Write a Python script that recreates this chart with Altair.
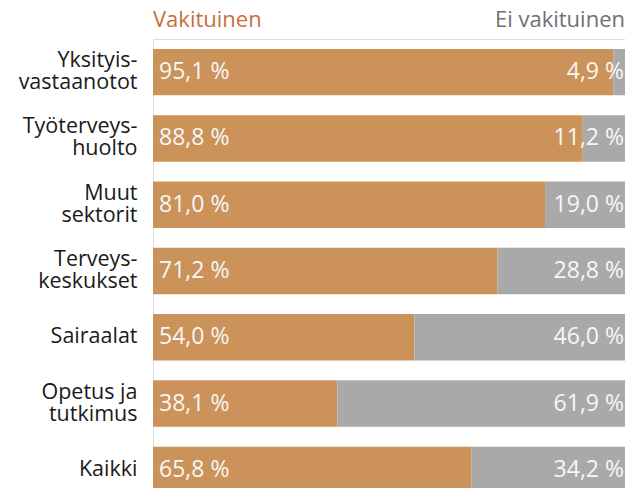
import altair as alt
import pandas as pd

categories = ["Yksityis-|vastaanotot", "Työterveys-|huolto", "Muut|sektorit",
              "Terveys-|keskukset", "Sairaalat", "Opetus ja|tutkimus", "Kaikki"]
vakituinen = [95.1, 88.8, 81.0, 71.2, 54.0, 38.1, 65.8]
ei_vakituinen = [4.9, 11.2, 19.0, 28.8, 46.0, 61.9, 34.2]
series = ["Vakituinen", "Ei vakituinen"]
colors = ["#CB935A", "#A9A9A9"]
header_colors = ["#C6703D", "#707070"]

def fmt(v):
    return f"{v:.1f}".replace(".", ",") + " %"

rows = []
for i, c in enumerate(categories):
    rows.append({"cat": c, "series": series[0], "order": 0, "val": vakituinen[i],
                 "start": 0.0, "end": vakituinen[i], "label": fmt(vakituinen[i])})
    rows.append({"cat": c, "series": series[1], "order": 1, "val": ei_vakituinen[i],
                 "start": vakituinen[i], "end": vakituinen[i] + ei_vakituinen[i],
                 "label": fmt(ei_vakituinen[i])})
df = pd.DataFrame(rows)

FONT = "Open Sans"

xscale = alt.Scale(domain=[0, 100], nice=False, zero=True, range=[0, 484])
yscale = alt.Scale(domain=categories, paddingInner=0.3, paddingOuter=0.15, range=[0, 464])

x = alt.X("start:Q", scale=xscale, axis=None)
y = alt.Y("cat:N", sort=categories, scale=yscale,
          axis=alt.Axis(title=None, ticks=False, domain=False, labelPadding=16,
                        labelFontSize=21.5, labelFont=FONT, labelColor="#1a1a1a",
                        labelLineHeight=22, labelLimit=200,
                        labelOffset=alt.ExprRef(expr="indexof(datum.value, '|') >= 0 ? -11 : 0"),
                        labelExpr="split(datum.label, '|')"))

base = alt.Chart(df)

bars = base.mark_bar().encode(
    x=x, x2="end:Q", y=y,
    color=alt.Color("series:N", scale=alt.Scale(domain=series, range=colors), legend=None),
)

left_text = base.transform_filter(alt.datum.order == 0).mark_text(
    align="left", baseline="middle", dx=6, fontSize=23, font=FONT, color="#F7F7F7"
).encode(x=alt.X("start:Q", scale=xscale), y=alt.Y("cat:N", sort=categories, scale=yscale), text="label:N")

right_text = base.transform_filter(alt.datum.order == 1).mark_text(
    align="right", baseline="middle", dx=-13, fontSize=23, font=FONT, color="#F7F7F7"
).encode(x=alt.X("end:Q", scale=xscale), y=alt.Y("cat:N", sort=categories, scale=yscale), text="label:N")

hdr = pd.DataFrame({"t": series, "pos": [0, 100]})
head_left = alt.Chart(hdr).transform_filter(alt.datum.pos == 0).mark_text(
    align="left", baseline="middle", fontSize=22, font=FONT, color=header_colors[0]
).encode(x=alt.X("pos:Q", scale=xscale), y=alt.value(-19), text="t:N")
head_right = alt.Chart(hdr).transform_filter(alt.datum.pos == 100).mark_text(
    align="right", baseline="middle", fontSize=22, font=FONT, color=header_colors[1], dx=-12
).encode(x=alt.X("pos:Q", scale=xscale), y=alt.value(-19), text="t:N")

chart = alt.layer(bars, left_text, right_text, head_left, head_right).properties(
    width=472, height=449,
    autosize=alt.AutoSizeParams(type="none"),
    padding={"left": 145, "top": 31, "right": 0, "bottom": 0},
).configure_view(stroke=None).configure(background="white")

chart.save("out.html", embed_options={"renderer": "svg", "actions": False})
